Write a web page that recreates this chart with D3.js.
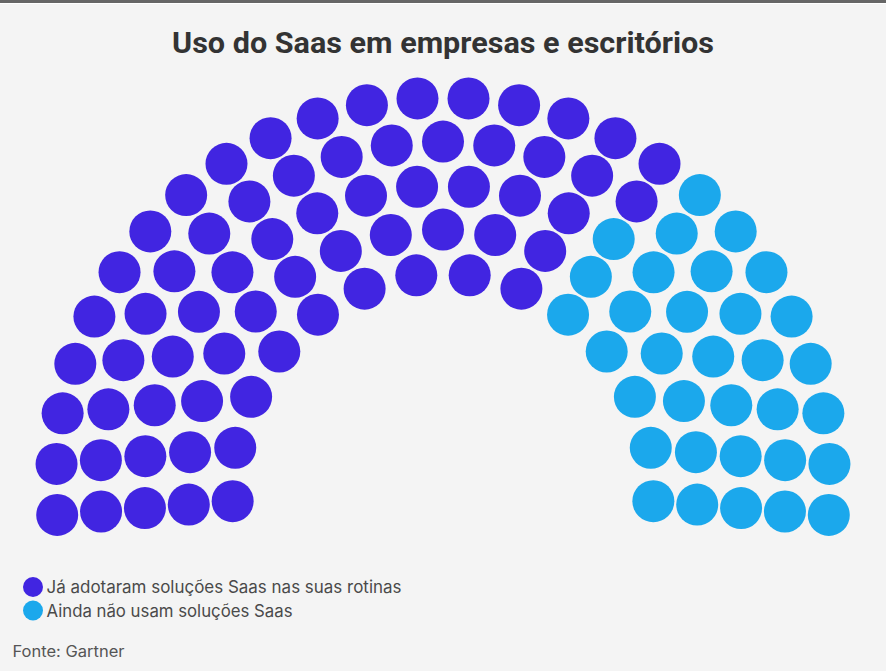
<!DOCTYPE html>
<html>
<head>
<meta charset="utf-8">
<script src="https://cdn.jsdelivr.net/npm/d3@7"></script>
<style>
  html, body { margin: 0; padding: 0; background: #f4f4f4; }
  svg { display: block; }
</style>
</head>
<body>
<svg width="886" height="671"></svg>
<script>
// data
var parties = ['Já adotaram soluções Saas nas suas rotinas', 'Ainda não usam soluções Saas'];
var seats = [67, 33];
var ringSeats = [14, 17, 20, 23, 26]; // inner -> outer
var source = 'Fonte: Gartner';
var title = 'Uso do Saas em empresas e escritórios';

var colors = ['#4125e1', '#1ba8ec'];
var legendWidths = [355, 246];

var svg = d3.select('svg');

// frame at top
svg.append('rect').attr('x', 0).attr('y', 0).attr('width', 886).attr('height', 3).attr('fill', '#666');
svg.append('rect').attr('x', 0).attr('y', 3).attr('width', 886).attr('height', 1).attr('fill', '#fff');

svg.append('text')
    .attr('x', 443)
    .attr('y', 53)
    .attr('text-anchor', 'middle')
    .attr('font-family', 'Roboto, sans-serif')
    .attr('font-weight', 700)
    .attr('font-size', 30)
    .attr('fill', '#333')
    .attr('textLength', 542)
    .attr('lengthAdjust', 'spacingAndGlyphs')
    .text(title);

// parliament geometry
var cx = 443, cy = 484.6;
var rScale = d3.scaleLinear().domain([0, ringSeats.length - 1]).range([211, 387]);
var spread = 4.5; // degrees below horizontal on each side

var all = [];
ringSeats.forEach(function(n, i) {
    var aScale = d3.scaleLinear().domain([0, n - 1]).range([-spread, 180 + spread]);
    d3.range(n).forEach(function(k) {
        all.push({ ring: i, angle: aScale(k), r: rScale(i) });
    });
});

// order seats from left to right by angle
all.sort(function(a, b) { return a.angle - b.angle || b.r - a.r; });
var cum = d3.cumsum(seats);
all.forEach(function(d, j) {
    d.party = d3.bisectRight(cum, j);
});

var chartG = svg.append('g');
chartG.selectAll('.seat')
    .data(all)
    .enter()
    .append('circle')
    .attr('class', 'seat')
    .attr('cx', function(d) { return cx - d.r * Math.cos(d.angle * Math.PI / 180); })
    .attr('cy', function(d) { return cy - d.r * Math.sin(d.angle * Math.PI / 180); })
    .attr('r', 21)
    .attr('fill', function(d) { return colors[d.party]; });

// legend
var legendG = svg.append('g').attr('transform', 'translate(33, 587)');
var items = legendG.selectAll('.item')
    .data(parties)
    .enter()
    .append('g')
    .attr('class', 'item')
    .attr('transform', function(d, i) { return 'translate(0,' + (i * 23.5) + ')'; });
items.append('circle')
    .attr('r', 10)
    .attr('fill', function(d, i) { return colors[i]; });
items.append('text')
    .attr('x', 13.5)
    .attr('y', 6.2)
    .attr('font-family', 'Inter, Roboto, sans-serif')
    .attr('font-size', 17)
    .attr('fill', '#4a4a4a')
    .attr('textLength', function(d, i) { return legendWidths[i]; })
    .attr('lengthAdjust', 'spacingAndGlyphs')
    .text(function(d) { return d; });

svg.append('text')
    .attr('x', 12.5)
    .attr('y', 656.5)
    .attr('font-family', 'Inter, Roboto, sans-serif')
    .attr('font-size', 15.5)
    .attr('fill', '#555')
    .attr('textLength', 112)
    .attr('lengthAdjust', 'spacingAndGlyphs')
    .text(source);
</script>
</body>
</html>
